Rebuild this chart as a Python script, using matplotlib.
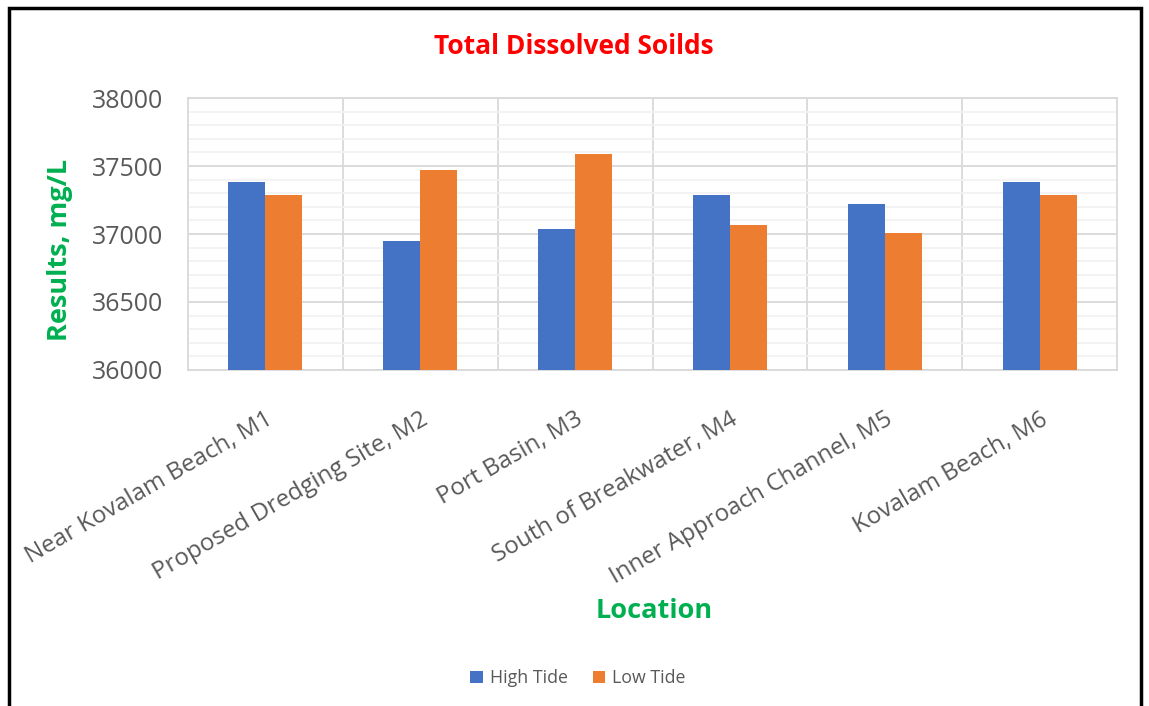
import numpy as np
import matplotlib
matplotlib.use('Agg')
import matplotlib.pyplot as plt
from matplotlib.patches import Rectangle
from matplotlib.ticker import MultipleLocator

locations = ['Near Kovalam Beach, M1', 'Proposed Dredging Site, M2', 'Port Basin, M3',
             'South of Breakwater, M4', 'Inner Approach Channel, M5', 'Kovalam Beach, M6']
high_tide = [37380, 36950, 37035, 37290, 37220, 37380]
low_tide = [37290, 37470, 37590, 37070, 37010, 37290]

plt.rcParams['font.family'] = ['Open Sans', 'DejaVu Sans']

fig = plt.figure(figsize=(11.49, 7.06), dpi=100)
ax = fig.add_axes([0.1636, 0.476, 0.8086, 0.385])

x = np.arange(len(locations))
w = 0.239
ax.bar(x - w / 2, high_tide, w, color='#4472C4', label='High Tide', zorder=3)
ax.bar(x + w / 2, low_tide, w, color='#ED7D31', label='Low Tide', zorder=3)

ax.set_ylim(36000, 38000)
ax.set_xlim(-0.5, len(locations) - 0.5)
ax.yaxis.set_major_locator(MultipleLocator(500))
ax.yaxis.set_minor_locator(MultipleLocator(100))
ax.grid(axis='y', which='major', color='#D9D9D9', linewidth=1.3, zorder=0)
ax.grid(axis='y', which='minor', color='#F2F2F2', linewidth=1.3, zorder=0)
# category separators
for b in np.arange(0.5, len(locations) - 1, 1.0):
    ax.axvline(b, color='#D9D9D9', linewidth=1.3, zorder=1)

for s in ax.spines.values():
    s.set_color('#D9D9D9')
    s.set_linewidth(1.3)

ax.set_xticks(x)
ax.set_xticklabels(locations, rotation=30, ha='right', rotation_mode='anchor',
                   fontsize=17.4, color='#595959')
ax.tick_params(axis='x', length=0, pad=27)
ax.tick_params(axis='y', which='both', length=0, labelsize=18, labelcolor='#595959', pad=18)

fig.text(0.4995, 0.934, 'Total Dissolved Soilds', ha='center', va='center',
         color='#FF0000', fontsize=19, fontweight='bold')
fig.text(0.052, 0.646, 'Results, mg/L', rotation=90, ha='center', va='center',
         color='#00B050', fontsize=19.5, fontweight='bold')
fig.text(0.569, 0.135, 'Location', ha='center', va='center',
         color='#00B050', fontsize=19.5, fontweight='bold')

leg = fig.legend(loc='center', bbox_to_anchor=(0.503, 0.039), ncol=2, frameon=False,
                 fontsize=12.8, handlelength=0.7, handleheight=0.7, columnspacing=1.4,
                 handletextpad=0.4)
for t in leg.get_texts():
    t.set_color('#595959')

# outer black border
fig.patches.append(Rectangle((0.008, -0.01), 0.985, 0.998, transform=fig.transFigure,
                             fill=False, edgecolor='black', linewidth=2.5))

fig.savefig('out.png', dpi=100)
